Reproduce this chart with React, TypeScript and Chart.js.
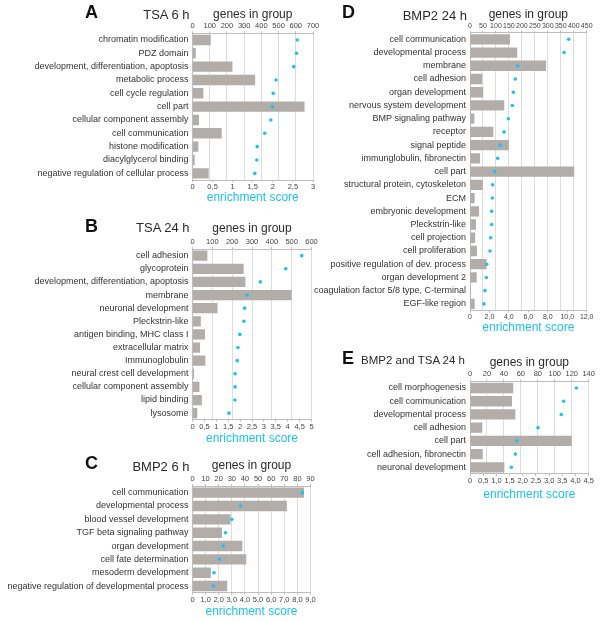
import React, { useEffect, useRef } from "react";
import { Chart, registerables } from "chart.js";
Chart.register(...registerables);

const FONT = "'Liberation Sans', Arial, Helvetica, sans-serif";
const BAR = "#b2ada9";
const DOT = "#1ec2f0";
const GRID = "#dddddd";
const AXIS = "#bdbdbd";
const TEXT = "#2a2a2a";

// ---------- Panel A: TSA 6 h ----------
const aLabels = [
  "chromatin modification",
  "PDZ domain",
  "development, differentiation, apoptosis",
  "metabolic process",
  "cell cycle regulation",
  "cell part",
  "cellular component assembly",
  "cell communication",
  "histone modification",
  "diacylglycerol binding",
  "negative regulation of cellular process",
];
const aGenes = [106, 19, 232, 364, 63, 651, 38, 170, 34, 13, 94];
const aScores = [2.61, 2.59, 2.52, 2.08, 2.01, 1.99, 1.95, 1.8, 1.61, 1.6, 1.55];
const aScoreTicks = ["0", "0,5", "1", "1,5", "2", "2,5", "3"];

// ---------- Panel B: TSA 24 h ----------
const bLabels = [
  "cell adhesion",
  "glycoprotein",
  "development, differentiation, apoptosis",
  "membrane",
  "neuronal development",
  "Pleckstrin-like",
  "antigen binding, MHC class I",
  "extracellular matrix",
  "Immunoglobulin",
  "neural crest cell development",
  "cellular component assembly",
  "lipid binding",
  "lysosome",
];
const bGenes = [75, 258, 267, 500, 126, 42, 63, 38, 65, 8, 35, 47, 24];
const bScores = [4.59, 3.92, 2.85, 2.29, 2.19, 2.16, 1.99, 1.91, 1.88, 1.79, 1.79, 1.78, 1.53];
const bScoreTicks = ["0", "0,5", "1", "1,5", "2", "2,5", "3", "3,5", "4", "4,5", "5"];

// ---------- Panel C: BMP2 6 h ----------
const cLabels = [
  "cell communication",
  "developmental process",
  "blood vessel development",
  "TGF beta signaling pathway",
  "organ development",
  "cell fate determination",
  "mesoderm development",
  "negative regulation of developmental process",
];
const cGenes = [85, 72, 29, 22.5, 38, 41, 14, 26.5];
const cScores = [8.38, 3.66, 3.0, 2.51, 2.33, 2.05, 1.64, 1.59];
const cScoreTicks = ["0", "1,0", "2,0", "3,0", "4,0", "5,0", "6,0", "7,0", "8,0", "9,0"];

// ---------- Panel D: BMP2 24 h ----------
const dLabels = [
  "cell communication",
  "developmental process",
  "membrane",
  "cell adhesion",
  "organ development",
  "nervous system development",
  "BMP signaling pathway",
  "receptor",
  "signal peptide",
  "immunglobulin, fibronectin",
  "cell part",
  "structural protein, cytoskeleton",
  "ECM",
  "embryonic development",
  "Pleckstrin-like",
  "cell projection",
  "cell proliferation",
  "positive regulation of dev. process",
  "organ development 2",
  "coagulation factor 5/8 type, C-terminal",
  "EGF-like region",
];
const dGenes = [154, 182, 293, 47, 51, 132, 17, 90, 150, 39, 402, 49, 18, 35, 23, 20, 27, 64, 26, 3, 18];
const dScores = [10.15, 9.67, 4.9, 4.66, 4.46, 4.35, 3.94, 3.5, 3.12, 2.85, 2.54, 2.33, 2.3, 2.23, 2.23, 2.13, 2.06, 1.72, 1.68, 1.54, 1.44];
const dScoreTicks = ["0", "2,0", "4,0", "6,0", "8,0", "10,0", "12,0"];

// ---------- Panel E: BMP2 and TSA 24 h ----------
const eLabels = [
  "cell morphogenesis",
  "cell communication",
  "developmental process",
  "cell adhesion",
  "cell part",
  "cell adhesion, fibronectin",
  "neuronal development",
];
const eGenes = [51, 49.5, 53.5, 14.5, 120, 15, 40.5];
const eScores = [4.03, 3.55, 3.46, 2.58, 1.78, 1.72, 1.57];
const eScoreTicks = ["0", "0,5", "1,0", "1,5", "2,0", "2,5", "3,0", "3,5", "4,0", "4,5"];

type PanelDef = {
  labels: string[];
  genes: number[];
  scores: number[];
  scoreTicks: string[];
  gMax: number;
  gStep: number;
  sMax: number;
  sStep: number;
  left: number;
  top: number;
  bottom: number;
  plotLeft: number;
  plotRight: number;
  plotTop: number;
  plotBottom: number;
  genesTitleY: number;
  scoreTitleY: number;
  rightPad: number;
  tickSize: number;
};

function Panel({ p }: { p: PanelDef }) {
  const ref = useRef<HTMLCanvasElement>(null);
  const canvasW = Math.round(p.plotRight + p.rightPad - p.left);
  const canvasH = Math.round(p.bottom - p.top);
  useEffect(() => {
    const c = ref.current;
    if (!c) return;
    const yW = p.plotLeft - p.left;
    const topH = p.plotTop - p.top;
    const botH = p.top + canvasH - p.plotBottom;
    const titleLH = 12 * 1.2;
    const tl = 2;
    const chart = new Chart(c, {
      type: "bar",
      data: {
        labels: p.labels,
        datasets: [
          {
            type: "line",
            data: p.scores,
            xAxisID: "x2",
            yAxisID: "y",
            indexAxis: "y",
            showLine: false,
            pointRadius: 1.8,
            pointHoverRadius: 1.8,
            pointBackgroundColor: DOT,
            pointBorderWidth: 0,
            order: 0,
            clip: false,
          } as any,
          {
            type: "bar",
            data: p.genes,
            xAxisID: "x",
            yAxisID: "y",
            backgroundColor: BAR,
            barPercentage: 0.78,
            categoryPercentage: 1,
            order: 1,
          } as any,
        ],
      },
      options: {
        indexAxis: "y",
        animation: false,
        responsive: false,
        maintainAspectRatio: false,
        events: [],
        layout: { padding: { left: 0, top: 0, bottom: 0, right: canvasW - (p.plotRight - p.left) } },
        plugins: { legend: { display: false }, tooltip: { enabled: false } },
        scales: {
          x: {
            type: "linear",
            position: "top",
            min: 0,
            max: p.gMax,
            ticks: {
              stepSize: p.gStep,
              font: { size: p.tickSize, family: FONT },
              color: "#444",
              padding: 0.5,
              autoSkip: false,
              maxRotation: 0,
              minRotation: 0,
            },
            grid: { color: GRID, tickLength: tl, tickColor: AXIS, lineWidth: 1 },
            border: { color: AXIS },
            title: {
              display: true,
              text: "genes in group",
              color: TEXT,
              font: { size: 12, family: FONT },
              padding: { top: p.genesTitleY - p.top - titleLH / 2, bottom: 0 },
            },
            afterFit: (s: any) => {
              s.height = topH;
            },
          } as any,
          x2: {
            type: "linear",
            position: "bottom",
            min: 0,
            max: p.sMax,
            ticks: {
              stepSize: p.sStep,
              font: { size: p.tickSize, family: FONT },
              color: "#444",
              padding: 0.5,
              autoSkip: false,
              maxRotation: 0,
              minRotation: 0,
              callback: (_v: any, i: number) => p.scoreTicks[i] ?? "",
            },
            grid: { display: true, drawOnChartArea: false, tickLength: tl, color: AXIS },
            border: { color: AXIS },
            title: {
              display: true,
              text: "enrichment score",
              color: DOT,
              font: { size: 12, family: FONT },
              padding: { top: 0, bottom: p.top + canvasH - p.scoreTitleY - titleLH / 2 },
            },
            afterFit: (s: any) => {
              s.height = botH;
            },
          } as any,
          y: {
            type: "category",
            position: "left",
            offset: true,
            grid: { display: false, drawTicks: false },
            border: { color: AXIS },
            ticks: {
              font: { size: 9, family: FONT },
              color: "#333",
              padding: 4,
              autoSkip: false,
            },
            afterFit: (s: any) => {
              s.width = yW;
            },
          } as any,
        },
      },
    });
    return () => chart.destroy();
  }, []);
  return (
    <canvas
      ref={ref}
      width={canvasW}
      height={canvasH}
      style={{ position: "absolute", left: p.left, top: p.top, width: canvasW, height: canvasH }}
    />
  );
}

const panels: PanelDef[] = [
  {
    labels: aLabels, genes: aGenes, scores: aScores, scoreTicks: aScoreTicks,
    gMax: 700, gStep: 100, sMax: 3, sStep: 0.5,
    left: 0, top: 0, bottom: 207, plotLeft: 192.5, plotRight: 313, plotTop: 33.3, plotBottom: 180,
    genesTitleY: 15, scoreTitleY: 198, rightPad: 10, tickSize: 7.5,
  },
  {
    labels: bLabels, genes: bGenes, scores: bScores, scoreTicks: bScoreTicks,
    gMax: 600, gStep: 100, sMax: 5, sStep: 0.5,
    left: 0, top: 215, bottom: 448, plotLeft: 192.5, plotRight: 311.5, plotTop: 249.1, plotBottom: 419.7,
    genesTitleY: 229, scoreTitleY: 439, rightPad: 10, tickSize: 7.5,
  },
  {
    labels: cLabels, genes: cGenes, scores: cScores, scoreTicks: cScoreTicks,
    gMax: 90, gStep: 10, sMax: 9, sStep: 1,
    left: 0, top: 452, bottom: 621, plotLeft: 192.5, plotRight: 310.5, plotTop: 486, plotBottom: 592.7,
    genesTitleY: 466, scoreTitleY: 612, rightPad: 10, tickSize: 7.5,
  },
  {
    labels: dLabels, genes: dGenes, scores: dScores, scoreTicks: dScoreTicks,
    gMax: 450, gStep: 50, sMax: 12, sStep: 2,
    left: 313, top: 1, bottom: 337, plotLeft: 470, plotRight: 586.7, plotTop: 32.7, plotBottom: 310.5,
    genesTitleY: 15, scoreTitleY: 328, rightPad: 12, tickSize: 7,
  },
  {
    labels: eLabels, genes: eGenes, scores: eScores, scoreTicks: eScoreTicks,
    gMax: 140, gStep: 20, sMax: 4.5, sStep: 0.5,
    left: 313, top: 349, bottom: 504, plotLeft: 470, plotRight: 588.7, plotTop: 381.4, plotBottom: 473.9,
    genesTitleY: 363, scoreTitleY: 495, rightPad: 10, tickSize: 7.5,
  },
];

const letters = [
  { t: "A", x: 85, y: 12 },
  { t: "B", x: 85, y: 226 },
  { t: "C", x: 85, y: 463 },
  { t: "D", x: 342, y: 12 },
  { t: "E", x: 342, y: 358 },
];

const titles = [
  { t: "TSA 6 h", right: 189.5, y: 14.5, size: 13 },
  { t: "TSA 24 h", right: 189.5, y: 227, size: 13 },
  { t: "BMP2 6 h", right: 189.5, y: 466, size: 13 },
  { t: "BMP2 24 h", right: 467, y: 15, size: 13 },
];

export default function App() {
  return (
    <div
      style={{
        position: "absolute",
        left: 0,
        top: 0,
        width: 600,
        height: 621,
        background: "#fff",
        overflow: "hidden",
        fontFamily: FONT,
      }}
    >
      {panels.map((p, i) => (
        <Panel key={i} p={p} />
      ))}
      {letters.map((l) => (
        <div
          key={l.t}
          style={{
            position: "absolute",
            left: l.x,
            top: l.y - 9,
            fontSize: 18,
            lineHeight: "18px",
            fontWeight: "bold",
            color: "#111",
            whiteSpace: "nowrap",
          }}
        >
          {l.t}
        </div>
      ))}
      {titles.map((t) => (
        <div
          key={t.t}
          style={{
            position: "absolute",
            right: 600 - t.right,
            top: t.y - t.size / 2,
            fontSize: t.size,
            lineHeight: `${t.size}px`,
            color: TEXT,
            whiteSpace: "nowrap",
          }}
        >
          {t.t}
        </div>
      ))}
      <div
        style={{
          position: "absolute",
          left: 361,
          top: 360.5 - 5.75,
          fontSize: 11.5,
          lineHeight: "11.5px",
          color: TEXT,
          whiteSpace: "nowrap",
        }}
      >
        BMP2 and TSA 24 h
      </div>
    </div>
  );
}
